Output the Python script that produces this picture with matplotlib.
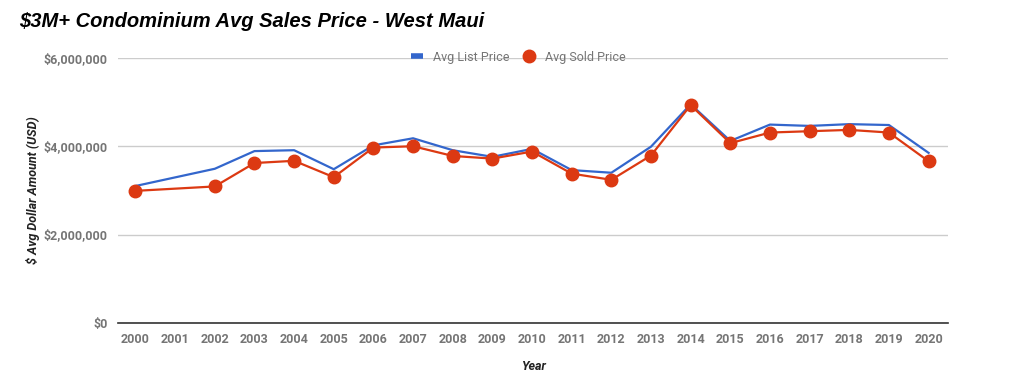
import matplotlib.pyplot as plt
import matplotlib.ticker as mticker
from matplotlib.lines import Line2D

# Data (2001 has no value)
years = [2000, 2002, 2003, 2004, 2005, 2006, 2007, 2008, 2009, 2010,
         2011, 2012, 2013, 2014, 2015, 2016, 2017, 2018, 2019, 2020]
list_price = [3.10, 3.49, 3.89, 3.91, 3.48, 4.02, 4.18, 3.91, 3.76, 3.94,
              3.46, 3.40, 3.99, 4.95, 4.12, 4.49, 4.46, 4.50, 4.48, 3.85]
sold_price = [2.99, 3.09, 3.62, 3.67, 3.30, 3.97, 4.00, 3.78, 3.72, 3.88,
              3.38, 3.24, 3.79, 4.93, 4.07, 4.31, 4.34, 4.37, 4.31, 3.66]
list_price = [v * 1e6 for v in list_price]
sold_price = [v * 1e6 for v in sold_price]
year_ticks = list(range(2000, 2021))
y_ticks = [0, 2e6, 4e6, 6e6]

blue = "#3366cc"
red = "#dc3912"
tick_grey = "#757575"

plt.rcParams['font.family'] = ['Roboto', 'DejaVu Sans']

fig = plt.figure(figsize=(10.32, 3.91), dpi=100)
ax = fig.add_axes([0.114, 0.174, 0.805, 0.678])

ax.plot(years, list_price, color=blue, lw=1.6, zorder=3)
ax.plot(years, sold_price, color=red, lw=1.6, marker="o", markersize=9,
        zorder=4)

ax.set_xlim(1999.55, 2020.5)
ax.set_ylim(0, 6e6)
ax.set_xticks(year_ticks)
ax.set_yticks(y_ticks)
ax.yaxis.set_major_formatter(mticker.FuncFormatter(lambda v, p: "${:,.0f}".format(v)))
ax.tick_params(axis="both", length=0, labelsize=9, labelcolor=tick_grey, pad=7)
for lab in ax.get_xticklabels() + ax.get_yticklabels():
    lab.set_fontweight("bold")

ax.grid(axis="y", color="#cccccc", lw=1)
ax.set_axisbelow(True)
for side in ["top", "right", "left"]:
    ax.spines[side].set_visible(False)
ax.spines["bottom"].set_color("#333333")
ax.spines["bottom"].set_linewidth(1.2)

ax.set_xlabel("Year", fontsize=9, fontweight="bold", fontstyle="italic",
              color="#222222", labelpad=10)
ax.set_ylabel("$ Avg Dollar Amount (USD)", fontsize=9, fontweight="bold",
              fontstyle="italic", color="#222222", labelpad=3)

# Legend with a short bar for the list price and a dot for the sold price
handles = [Line2D([], [], color=blue, lw=4, solid_capstyle="butt"),
           Line2D([], [], color=red, lw=0, marker="o", markersize=9)]
leg = fig.legend(handles, ["Avg List Price", "Avg Sold Price"],
                 loc="center left", bbox_to_anchor=(0.392, 0.854), ncol=2,
                 frameon=False, fontsize=9, handlelength=1.0,
                 columnspacing=1.1, handletextpad=0.75, borderpad=0)
for t in leg.get_texts():
    t.set_color(tick_grey)

fig.text(0.019, 0.945, "$3M+ Condominium Avg Sales Price - West Maui",
         fontsize=14.5, fontweight="bold", fontstyle="italic",
         family="Liberation Sans", va="center")

fig.savefig("out.png", dpi=100)
